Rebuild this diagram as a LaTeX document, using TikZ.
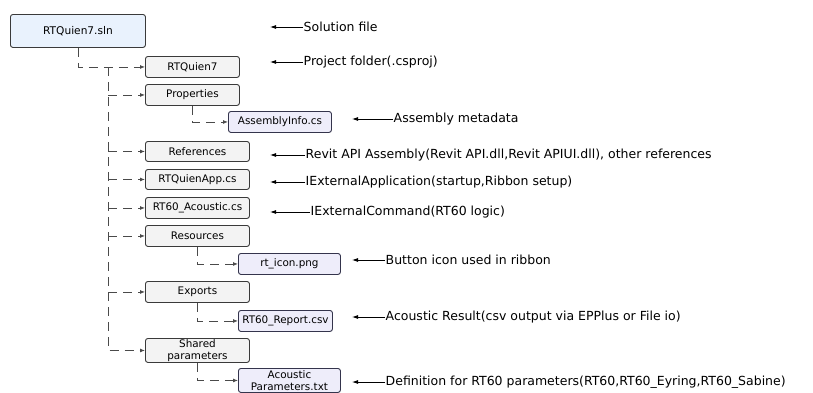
\documentclass[tikz,border=0pt]{standalone}
\usepackage{fontspec}
\setmainfont{DejaVu Sans}
\usetikzlibrary{arrows, arrows.meta}
\usetikzlibrary{positioning}
\usetikzlibrary{calc}
\definecolor{slnfill}{HTML}{E9F2FD}
\definecolor{itemfill}{HTML}{F3F3F3}
\definecolor{filefill}{HTML}{EEEDFA}
\definecolor{boxline}{HTML}{3A3A3A}
\definecolor{fileline}{HTML}{34344C}
\definecolor{treeline}{HTML}{4A4A4A}

\begin{document}
\begin{tikzpicture}[x=1pt,y=-1pt,
	slnbox/.style={draw=boxline, fill=slnfill, rounded corners=2.5pt, line width=0.9pt, anchor=north west, minimum height=33pt, font=\fontsize{10.6}{12}\selectfont},
	itembox/.style={draw=boxline, fill=itemfill, rounded corners=2.5pt, line width=0.9pt, anchor=north west, minimum width=104pt, minimum height=21pt, inner sep=0pt, align=center, font=\fontsize{10.4}{11.6}\selectfont},
	filebox/.style={draw=fileline, fill=filefill, rounded corners=2.5pt, line width=0.9pt, anchor=north west, minimum width=102pt, minimum height=21pt, inner sep=0pt, align=center, font=\fontsize{10.4}{11.6}\selectfont},
	tree/.style={draw=treeline, line width=0.9pt, dash pattern=on 9pt off 6pt},
	treearrow/.style={tree, -{Latex[length=5pt,width=4pt]}},
	note/.style={anchor=west, inner sep=0.5pt, font=\fontsize{12.5}{14}\selectfont},
	pointer/.style={draw=black, line width=0.8pt, -{Latex[length=6pt,width=4pt]}}
	]
	\useasboundingbox (0,0) rectangle (813,392);
	% solution and project folders
	\node[slnbox, minimum width=135pt] (sln) at (10,14) {RTQuien7.sln};
	\node[itembox, minimum width=94pt] (proj) at (145,56) {RTQuien7};
	\node[itembox, minimum width=94pt] (props) at (145,84) {Properties};
	\node[filebox, minimum width=103pt] (asminfo) at (228,111) {AssemblyInfo.cs};
	\node[itembox, minimum height=20pt] (refs) at (145,141) {References};
	\node[itembox, minimum height=20pt] (app) at (145,169) {RTQuienApp.cs};
	\node[itembox] (acoustic) at (145,197) {RT60\_Acoustic.cs};
	\node[itembox] (res) at (145,225) {Resources};
	\node[filebox] (icon) at (238,253) {rt\_icon.png};
	\node[itembox] (exports) at (145,281) {Exports};
	\node[filebox, minimum width=94pt] (report) at (238,310) {RT60\_Report.csv};
	\node[itembox, minimum height=24pt] (shared) at (145,338) {Shared\\parameters};
	\node[filebox, minimum height=24pt] (params) at (238,368) {Acoustic\\Parameters.txt};
	
	% dashed tree
	\coordinate (trunk) at (108,67);
	\draw[treearrow] (sln.south) |- (proj.west);
	\draw[treearrow] (trunk) |- (shared.west);
	\draw[treearrow] (trunk |- props.west) -- (props.west);
	\draw[treearrow] (trunk |- refs.west) -- (refs.west);
	\draw[treearrow] (trunk |- app.west) -- (app.west);
	\draw[treearrow] (trunk |- acoustic.west) -- (acoustic.west);
	\draw[treearrow] (trunk |- res.west) -- (res.west);
	\draw[treearrow] (trunk |- exports.west) -- (exports.west);
	\draw[treearrow] (props.south) |- (asminfo.west);
	\draw[treearrow] (res.south) |- (icon.west);
	\draw[treearrow] (exports.south) |- (report.west);
	\draw[treearrow] (shared.south) |- (params.west);
	
	% descriptions
	\coordinate (tipA) at (270,0);
	\coordinate (tipB) at (352,0);
	\node[note] (nsln) at (303,27) {Solution file};
	\node[note] (nproj) at (303,62) {Project folder(.csproj)};
	\node[note] (nasm) at (393,119) {Assembly metadata};
	\node[note] (nrefs) at (305,155) {Revit API Assembly(Revit API.dll,Revit APIUI.dll), other references};
	\node[note] (napp) at (305,182) {IExternalApplication(startup,Ribbon setup)};
	\node[note] (ncmd) at (310,212) {IExternalCommand(RT60 logic)};
	\node[note] (nicon) at (385,260) {Button icon used in ribbon};
	\node[note] (nres) at (385,317) {Acoustic Result(csv output via EPPlus or File io)};
	\node[note] (ndef) at (385,382) {Definition for RT60 parameters(RT60,RT60\_Eyring,RT60\_Sabine)};
	\draw[pointer] (nsln.west) -- (nsln.west -| tipA);
	\draw[pointer] (nproj.west) -- (nproj.west -| tipA);
	\draw[pointer] (nasm.west) -- (nasm.west -| tipB);
	\draw[pointer] (nrefs.west) -- (nrefs.west -| tipA);
	\draw[pointer] (napp.west) -- (napp.west -| tipA);
	\draw[pointer] (ncmd.west) -- (ncmd.west -| tipA);
	\draw[pointer] (nicon.west) -- (nicon.west -| tipB);
	\draw[pointer] (nres.west) -- (nres.west -| tipB);
	\draw[pointer] (ndef.west) -- (ndef.west -| tipB);
\end{tikzpicture}
\end{document}
